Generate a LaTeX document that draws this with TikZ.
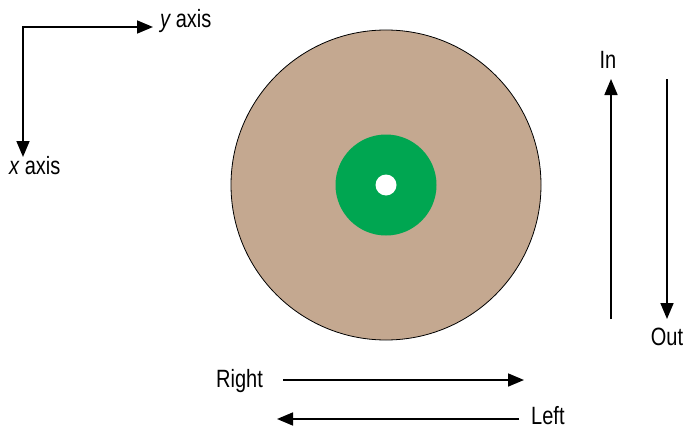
\documentclass[tikz,border=0pt]{standalone}
\usepackage{fontspec}
\setmainfont{Liberation Sans}[FakeStretch=0.8]
\usetikzlibrary{arrows.meta}
\definecolor{tan}{RGB}{196,168,144}
\definecolor{dgreen}{RGB}{0,166,81}
\begin{document}
\begin{tikzpicture}[x=1pt,y=-1pt,
  lbl/.style={font=\fontsize{25}{28}\selectfont, inner sep=0pt},
  tip/.tip={Triangle[length=16pt,width=13pt]},
  arr/.style={line width=1.7pt, -tip}]
\useasboundingbox (0,0) rectangle (685,428);
% disc
\node[circle, draw=black, line width=0.8pt, fill=tan, minimum size=310pt, inner sep=0pt] (disc) at (386,185) {};
\node[circle, fill=dgreen, minimum size=101pt, inner sep=0pt] (ring) at (386,185) {};
\node[circle, fill=white, minimum size=21pt, inner sep=0pt] (hole) at (386,185) {};
% axes
\coordinate (corner) at (23,27);
\coordinate (ytip) at (153,27);
\coordinate (xtip) at (23,157);
\draw[line width=1.7pt, tip-tip] (xtip) -- (corner) -- (ytip);
\node[lbl, anchor=base west] (ylab) at (160,28) {\itshape y\upshape\ axis};
\node[lbl, anchor=base west] (xlab) at (9,174) {\itshape x\upshape\ axis};
% In / Out
\coordinate (inS) at (611,319);
\coordinate (inE) at (611,79);
\draw[arr] (inS) -- (inE);
\node[lbl, anchor=base] (inlab) at (608,68) {In};
\coordinate (outS) at (667,79);
\coordinate (outE) at (667,319);
\draw[arr] (outS) -- (outE);
\node[lbl, anchor=base] (outlab) at (667,345) {Out};
% Right / Left
\coordinate (rS) at (283,380);
\coordinate (rE) at (524,380);
\draw[arr] (rS) -- (rE);
\node[lbl, anchor=base west] (rlab) at (216,387) {Right};
\coordinate (lS) at (519,419);
\coordinate (lE) at (277,419);
\draw[arr] (lS) -- (lE);
\node[lbl, anchor=base west] (llab) at (531,424) {Left};
\end{tikzpicture}
\end{document}
